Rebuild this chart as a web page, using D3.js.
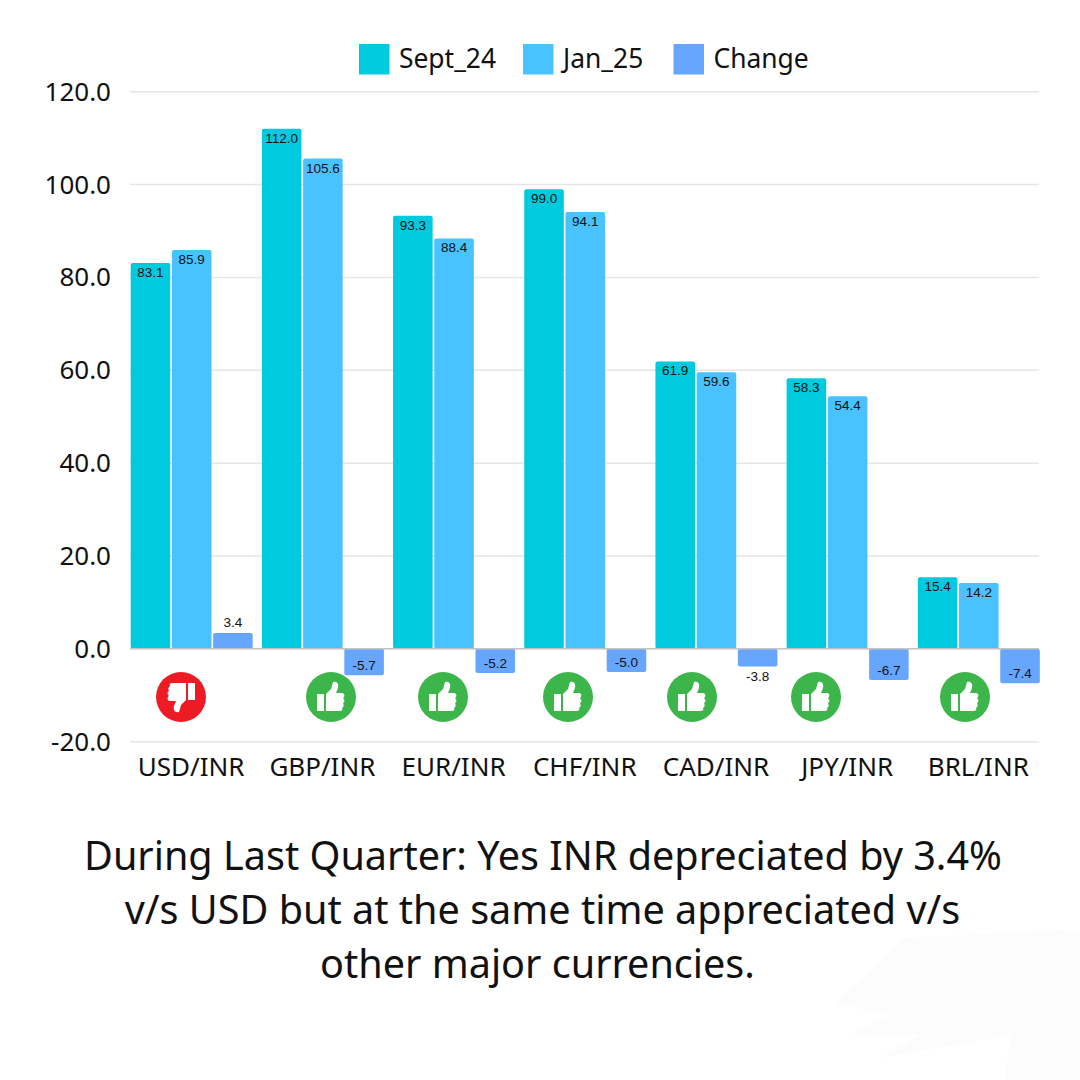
<!DOCTYPE html>
<html>
<head>
  <meta charset="UTF-8">
  <title>INR v/s major currencies</title>
  <script src="https://d3js.org/d3.v7.min.js"></script>
  <style>
    html, body { margin: 0; padding: 0; background: #fff; }
    svg { display: block; }
    text { font-family: "Noto Sans", sans-serif; fill: #111; }
  </style>
</head>
<body>
  <div id="chart"></div>
  <script>
    const pairs = ["USD/INR", "GBP/INR", "EUR/INR", "CHF/INR", "CAD/INR", "JPY/INR", "BRL/INR"];
    const sept24 = [83.1, 112.0, 93.3, 99.0, 61.9, 58.3, 15.4];
    const jan25 = [85.9, 105.6, 88.4, 94.1, 59.6, 54.4, 14.2];
    const change = [3.4, -5.7, -5.2, -5.0, -3.8, -6.7, -7.4];
    const seriesNames = ["Sept_24", "Jan_25", "Change"];
    const seriesValues = [sept24, jan25, change];
    const yTicks = [-20, 0, 20, 40, 60, 80, 100, 120];
    const verdicts = ["down", "up", "up", "up", "up", "up", "up"];
    const captionLines = [
      "During Last Quarter: Yes INR depreciated by 3.4%",
      "v/s USD but at the same time appreciated v/s",
      "other major currencies."
    ];

    const colors = d3.scaleOrdinal().domain(seriesNames).range(["#00cbde", "#48c3ff", "#66a6ff"]);

    const svg = d3.select("#chart").append("svg")
      .attr("width", 1080)
      .attr("height", 1080);

    // faint brush shape in the bottom right corner
    svg.append("path")
      .attr("d", "M835 1003 L905 938 L1060 930 L1080 935 L1080 1080 L1005 1080 L1010 1035 L880 1058 L920 1035 L850 1035 L890 1015 Z")
      .attr("fill", "#fcfcfc");

    const y = d3.scaleLinear().domain([-20, 120]).range([741.7, 91.7]);
    const x0 = d3.scaleBand().domain(pairs).range([130.7, 1049]);
    const x1 = d3.scaleBand().domain(seriesNames).range([0, 122]).paddingInner(0.04);

    // grid
    svg.append("g").selectAll("line")
      .data(yTicks)
      .join("line")
      .attr("x1", 130)
      .attr("x2", 1039)
      .attr("y1", d => y(d))
      .attr("y2", d => y(d))
      .attr("stroke", "#e6e6e6")
      .attr("stroke-width", 1.5);

    svg.append("g").selectAll("text")
      .data(yTicks)
      .join("text")
      .attr("x", 111)
      .attr("y", d => y(d) + 9)
      .attr("text-anchor", "end")
      .style("font-size", "26px")
      .text(d => d.toFixed(1));

    // bars
    const groups = svg.append("g").selectAll("g")
      .data(seriesNames.map((name, i) => ({ name: name, values: seriesValues[i] })))
      .join("g");

    groups.selectAll("rect")
      .data(s => s.values.map((v, i) => ({ name: s.name, value: v, pair: pairs[i] })))
      .join("rect")
      .attr("x", d => x0(d.pair) + x1(d.name))
      .attr("y", d => y(Math.max(0, d.value)))
      .attr("width", x1.bandwidth())
      .attr("height", d => Math.abs(y(d.value) - y(0)))
      .attr("rx", 2)
      .attr("fill", d => colors(d.name));

    // value labels, short bars get them outside
    groups.selectAll("text")
      .data(s => s.values.map((v, i) => ({ name: s.name, value: v, pair: pairs[i] })))
      .join("text")
      .attr("x", d => x0(d.pair) + x1(d.name) + x1.bandwidth() / 2)
      .attr("y", d => {
        if (d.value >= 0 && d.value < 4) return y(d.value) - 6;
        if (d.value < 0 && d.value > -4) return y(d.value) + 15;
        if (d.value < 0) return y(d.value) - 5;
        return y(d.value) + 14;
      })
      .attr("text-anchor", "middle")
      .style("font-family", "'Liberation Sans', sans-serif")
      .style("font-size", "13.5px")
      .text(d => d.value.toFixed(1));

    svg.append("line")
      .attr("x1", 130)
      .attr("x2", 1039)
      .attr("y1", y(0))
      .attr("y2", y(0))
      .attr("stroke", "#c4c4c4")
      .attr("stroke-width", 1.5);

    // category labels
    svg.append("g").selectAll("text")
      .data(pairs)
      .join("text")
      .attr("x", d => x0(d) + 60.5)
      .attr("y", 776)
      .attr("text-anchor", "middle")
      .style("font-size", "26px")
      .text(d => d);

    // thumbs icons, they sit left of the group centres in the original
    const iconX = [181, 331, 443, 568, 692, 816, 965];
    const thumb = "M-14 -3 h7 v17 h-7 Z M-5 -3 L0 -8 L2 -15 C6 -16 8 -13 7 -9 L5 -4 H11 C14 -4 14 0 12 1 C14 3 14 5 12 6 C13 8 13 10 11 11 C12 13 11 14 8 14 H-5 Z";
    const icons = svg.append("g").selectAll("g")
      .data(verdicts)
      .join("g")
      .attr("transform", (d, i) => "translate(" + iconX[i] + ",697)");

    icons.append("circle")
      .attr("r", 25)
      .attr("fill", d => d === "up" ? "#3cb54a" : "#ed1c24");

    icons.append("path")
      .attr("d", thumb)
      .attr("fill", "#fff")
      .attr("transform", d => d === "up" ? "" : "rotate(180)");

    // legend
    const legendX = [359, 523, 673.5];
    const legend = svg.append("g").selectAll("g")
      .data(seriesNames)
      .join("g")
      .attr("transform", (d, i) => "translate(" + legendX[i] + ",44)");

    legend.append("rect")
      .attr("width", 30.5)
      .attr("height", 30.5)
      .attr("fill", d => colors(d));

    legend.append("text")
      .attr("x", 40)
      .attr("y", 24)
      .style("font-size", "26.4px")
      .text(d => d);

    // caption, last line sits a little left in the original
    const captionX = [543, 542.5, 537.5];
    svg.append("g").selectAll("text")
      .data(captionLines)
      .join("text")
      .attr("x", (d, i) => captionX[i])
      .attr("y", (d, i) => 870 + i * 54)
      .attr("text-anchor", "middle")
      .style("font-size", "39.6px")
      .text(d => d);
  </script>
</body>
</html>
